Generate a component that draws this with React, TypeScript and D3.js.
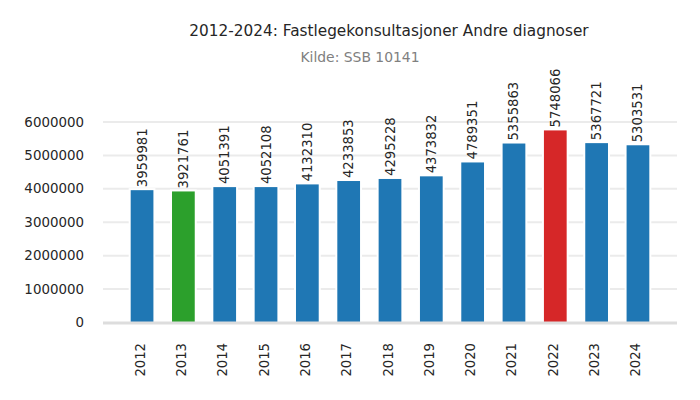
import React from "react";
import * as d3 from "d3";

const years = ["2012","2013","2014","2015","2016","2017","2018","2019","2020","2021","2022","2023","2024"];
const values = [3959981,3921761,4051391,4052108,4132310,4233853,4295228,4373832,4789351,5355863,5748066,5367721,5303531];
const barColors = ["#1f77b4","#2ca02c","#1f77b4","#1f77b4","#1f77b4","#1f77b4","#1f77b4","#1f77b4","#1f77b4","#1f77b4","#d62728","#1f77b4","#1f77b4"];
const yTicks = [0,1000000,2000000,3000000,4000000,5000000,6000000];
const title = "2012-2024: Fastlegekonsultasjoner Andre diagnoser";
const subtitle = "Kilde: SSB 10141";

export default function App() {
  const W = 700, H = 400;
  const left = 103, right = 677;
  const x = d3.scaleBand<string>().domain(years).range([left, right]).paddingInner(0.45).paddingOuter(0.67);
  const y = d3.scaleLinear().domain([0, 6000000]).range([322.5, 122]);
  const font = "'DejaVu Sans', sans-serif";
  const textColor = "#262626";
  return (
    <svg width={W} height={H} style={{ position: "absolute", left: 0, top: 0, background: "#fff" }} fontFamily={font}>
      {yTicks.filter(t => t > 0).map(t => (
        <line key={t} x1={left} x2={right} y1={y(t)} y2={y(t)} stroke="#ebebeb" strokeWidth={2} />
      ))}
      {years.map((yr, i) => (
        <rect key={"w" + yr} x={x(yr)! - 2} width={x.bandwidth() + 4} y={y(values[i]) - 2} height={y(0) - y(values[i]) + 2} fill="#fff" />
      ))}
      {years.map((yr, i) => (
        <rect key={yr} x={x(yr)} width={x.bandwidth()} y={y(values[i])} height={y(0) - y(values[i])} fill={barColors[i]} />
      ))}
      <line x1={left} x2={right} y1={y(0) + 0.5} y2={y(0) + 0.5} stroke="#dddddd" strokeWidth={3} />
      {yTicks.map(t => (
        <text key={t} x={84} y={y(t)} textAnchor="end" dominantBaseline="central" fontSize={13.4} fill={textColor}>{t}</text>
      ))}
      {years.map((yr, i) => {
        const cx = x(yr)! + x.bandwidth() / 2;
        return (
          <text key={"v" + yr} transform={`translate(${cx},${y(values[i]) - 3}) rotate(-90)`} textAnchor="start" dominantBaseline="central" fontSize={13.2} fill={textColor}>{values[i]}</text>
        );
      })}
      {years.map(yr => {
        const cx = x(yr)! + x.bandwidth() / 2;
        return (
          <text key={"x" + yr} transform={`translate(${cx - 2},${343}) rotate(-90)`} textAnchor="end" dominantBaseline="central" fontSize={13.2} fill={textColor}>{yr}</text>
        );
      })}
      <text x={389} y={31} textAnchor="middle" dominantBaseline="central" fontSize={15.3} fill={textColor}>{title}</text>
      <text x={360} y={57} textAnchor="middle" dominantBaseline="central" fontSize={13.9} fill="#808080">{subtitle}</text>
    </svg>
  );
}
